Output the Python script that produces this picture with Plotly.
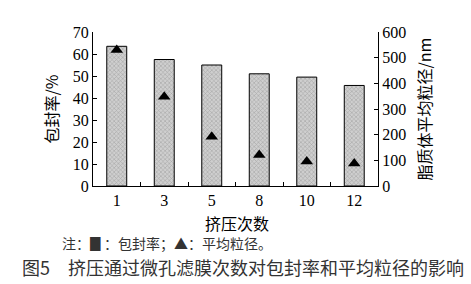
import plotly.graph_objects as go

categories = ["1", "3", "5", "8", "10", "12"]
encapsulation = [63.5, 57.5, 55.0, 51.0, 49.5, 45.7]
particle_size = [530, 348, 192, 121, 95, 88]

serif = "Liberation Serif"
cjk = "Noto Sans CJK SC"

fig = go.Figure()
fig.add_trace(go.Bar(
    x=categories, y=encapsulation, width=0.42,
    marker=dict(color="#b8b8b8", line=dict(color="black", width=1),
                pattern=dict(shape="x", size=3, fgcolor="#7a7a7a", bgcolor="#cfcfcf", solidity=0.35)),
    showlegend=False, yaxis="y"))
fig.add_trace(go.Scatter(
    x=categories, y=particle_size, mode="markers",
    marker=dict(symbol="triangle-up", size=11, color="black"),
    showlegend=False, yaxis="y2"))

axis_common = dict(showgrid=False, zeroline=False, showline=True, linecolor="black",
                   linewidth=1, ticks="inside", ticklen=4, tickcolor="black",
                   tickfont=dict(family=serif, size=16, color="black"))

fig.update_layout(
    width=471, height=284,
    margin=dict(l=93, r=93, t=32, b=98),
    paper_bgcolor="white", plot_bgcolor="white",
    xaxis=dict(type="category", tickson="boundaries", range=[-0.5, 5.5], **axis_common),
    yaxis=dict(range=[0, 70], dtick=10,
               title=dict(text="包封率/%", font=dict(family=cjk, size=16, color="black"), standoff=10),
               **axis_common),
    yaxis2=dict(range=[0, 600], dtick=100, overlaying="y", side="right",
                title=dict(text="脂质体平均粒径/nm", font=dict(family=cjk, size=16, color="black"), standoff=14),
                **axis_common),
)

plot_w = 471 - 93 - 93
plot_h = 284 - 32 - 98
def px(xp):
    return (xp - 93) / plot_w
def py(yp):
    return (284 - 98 - yp) / plot_h

fig.add_annotation(text="挤压次数", x=px(237), y=py(223), xref="paper", yref="paper", showarrow=False,
                   font=dict(family=cjk, size=16, color="black"), xanchor="center", yanchor="middle")
fig.add_annotation(text="注：▊：包封率；▲：平均粒径。", x=px(60), y=py(243), xref="paper", yref="paper",
                   showarrow=False, font=dict(family=cjk, size=14, color="#333"),
                   xanchor="left", yanchor="middle")
fig.add_annotation(text="图5　挤压通过微孔滤膜次数对包封率和平均粒径的影响", x=px(20), y=py(267),
                   xref="paper", yref="paper", showarrow=False,
                   font=dict(family=cjk, size=18, color="#333"), xanchor="left", yanchor="middle")

fig.write_html("out.html")
